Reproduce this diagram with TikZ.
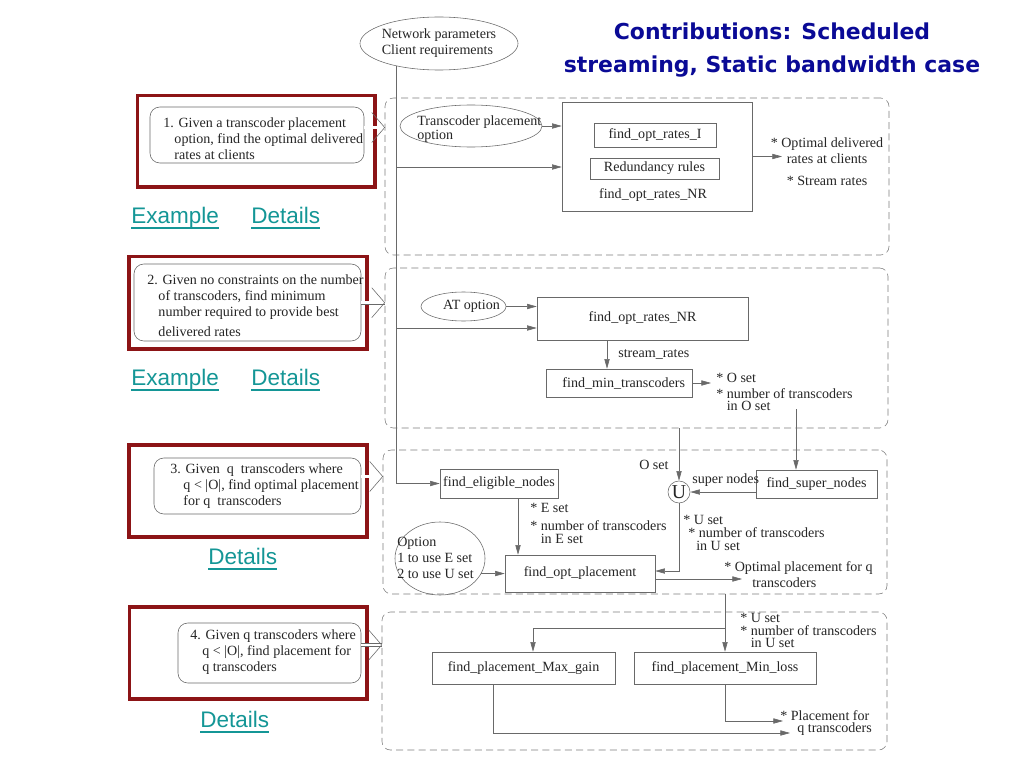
\documentclass[tikz,border=0pt]{standalone}
\usepackage{fontspec}
\setmainfont{Liberation Serif}
\newfontfamily\linkfam{Liberation Sans}
\newfontfamily\titlefam{DejaVu Sans}
\usepackage{xcolor}
\usepackage{tikz}
\usetikzlibrary{shapes,arrows,positioning,fit,calc,arrows.meta}

\definecolor{framered}{RGB}{140,20,22}
\definecolor{linkteal}{RGB}{20,150,150}
\definecolor{titleblue}{RGB}{10,10,150}
\definecolor{linegray}{RGB}{105,105,105}
\definecolor{dashgray}{RGB}{125,125,125}

\newcommand{\difont}{\fontsize{10pt}{11.4pt}\selectfont}
\newcommand{\linkul}[1]{\setbox0\hbox{#1}\rlap{\rule[-4pt]{\wd0}{1.1pt}}\box0}

\begin{document}
\begin{tikzpicture}[
    x=0.025cm, y=-0.025cm,
    every node/.style={text=black!85},
    panel/.style={draw=dashgray, dash pattern=on 5pt off 3pt, rounded corners=6pt, inner sep=0pt},
    redframe/.style={draw=framered, line width=2.7pt, inner sep=0pt},
    qbox/.style={draw=linegray, rounded corners=7pt, inner sep=0pt},
    box/.style={draw=linegray, inner sep=0pt},
    oval/.style={draw=linegray, ellipse, inner sep=0pt},
    txt/.style={inner sep=0pt, align=left, font=\difont},
    link/.style={inner sep=0pt, anchor=base west, text=linkteal, font=\linkfam\fontsize{16pt}{18pt}\selectfont},
    flow/.style={draw=linegray, -{Triangle[length=2.4mm,width=1.3mm]}},
    imp/.style={draw=linegray, double, double distance=2pt},
    chev/.style={draw=linegray}
]
\fill[white] (0,0) rectangle (1024,768);
\useasboundingbox (0,0) rectangle (1024,768);

\node[font=\titlefam\bfseries\fontsize{15.6pt}{23.4pt}\selectfont, text=titleblue, align=center, anchor=north, inner sep=0pt] (title) at (772,22.5) {Contributions: Scheduled\\streaming, Static bandwidth case};

% dashed panels
\node[panel, fit={(385,98) (889,255)}] (p1) {};
\node[panel, fit={(385,268) (888,428)}] (p2) {};
\node[panel, fit={(383,450) (887,594)}] (p3) {};
\node[panel, fit={(382,612) (887,750)}] (p4) {};

% problem statements
\node[redframe, fit={(137.5,95.5) (375,187)}] (r1) {};
\node[qbox, fit={(150,107) (364,163)}] (q1) {};
\node[txt, anchor=north west] (q1t) at (163,117.5) {1. Given a transcoder placement\\\hspace*{0.28cm}option, find the optimal delivered\\\hspace*{0.28cm}rates at clients};
\node[link] (ex1) at (131,223) {\linkul{Example}};
\node[link] (det1) at (251,223) {\linkul{Details}};

\node[redframe, fit={(129,256.5) (367,349)}] (r2) {};
\node[qbox, fit={(134,264) (361,341)}] (q2) {};
\node[txt, anchor=north west] (q2t) at (147,274.5) {2. Given no constraints on the number\\\hspace*{0.28cm}of transcoders, find minimum\\\hspace*{0.28cm}number required to provide best\\[2.8pt]\hspace*{0.28cm}delivered rates};
\node[link] (ex2) at (131,385) {\linkul{Example}};
\node[link] (det2) at (251,385) {\linkul{Details}};

\node[redframe, fit={(129,445) (367,537)}] (r3) {};
\node[qbox, fit={(154,458) (361,514)}] (q3) {};
\node[txt, anchor=north west] (q3t) at (170,463.5) {3. Given\ \ q\ \ transcoders where\\\hspace*{0.33cm}q < |O|, find optimal placement\\\hspace*{0.33cm}for q\ \ transcoders};
\node[link] (det3) at (208,564) {\linkul{Details}};

\node[redframe, fit={(129.5,607) (367,699)}] (r4) {};
\node[qbox, fit={(178,623) (361,683)}] (q4) {};
\node[txt, anchor=north west] (q4t) at (190,629.5) {4. Given q transcoders where\\\hspace*{0.3cm}q < |O|, find placement for\\\hspace*{0.3cm}q transcoders};
\node[link] (det4) at (200,727) {\linkul{Details}};

% inputs
\node[oval, minimum width=3.95cm, minimum height=1.325cm,
      label={[txt]center:{Network parameters\\Client requirements}}] (net) at (439,43.5) {};

% panel 1
\node[oval, minimum width=3.55cm, minimum height=1.05cm] (tpo) at (471,126) {};
\node[txt, anchor=north west] (tpot) at (417,115.5) {Transcoder placement\\[-1.8pt]option};
\node[box, fit={(562,102) (752,211)}] (nr1) {};
\node[box, fit={(594,123) (716,147)}, label={[txt]center:find\_opt\_rates\_I}] (ropt) {};
\node[box, fit={(590,158) (719,179)}, label={[txt]center:Redundancy rules}] (rr) {};
\node[txt, anchor=base] (nr1l) at (653,198) {find\_opt\_rates\_NR};
\node[txt, align=center, anchor=north] (out1) at (827,137.5) {* Optimal delivered\\rates at clients\\[4pt]* Stream rates};

% panel 2
\node[oval, minimum width=2.125cm, minimum height=0.725cm,
      label={[txt, xshift=0.2cm]center:AT option}] (atopt) at (463.5,306.5) {};
\node[box, fit={(537,297) (748,340)}, label={[txt]center:find\_opt\_rates\_NR}] (nr2) {};
\node[box, fit={(546,369) (692,397)}, label={[txt, xshift=0.12cm]center:find\_min\_transcoders}] (mint) {};
\node[txt, anchor=base west] (srl) at (618,357) {stream\_rates};
\node[txt, anchor=north west] (oset) at (716,372.5) {* O set\\* number of transcoders\\[-2.5pt]\hphantom{* }in O set};

% panel 3
\node[box, fit={(440,469) (558,498)}, label={[txt]center:find\_eligible\_nodes}] (elig) {};
\node[box, fit={(756,470) (877,498)}, label={[txt]center:find\_super\_nodes}] (sup) {};
\node[circle, draw=linegray, minimum size=0.55cm, inner sep=0pt, font=\fontsize{14pt}{14pt}\selectfont] (ucirc) at (679,492) {U};
\node[oval, minimum width=2.25cm, minimum height=1.825cm] (opt) at (440,558.5) {};
\node[txt, anchor=north west] (optt) at (397,536.5) {Option\\1 to use E set\\2 to use U set};
\node[box, fit={(505,555) (655,592)}, label={[txt]center:find\_opt\_placement}] (place) {};
\node[txt, anchor=north west] (eset) at (530,503.5) {* E set\\[1pt]* number of transcoders\\[-1.8pt]\hphantom{* }in E set};
\node[txt, anchor=north west] (uset) at (683,515.5) {* U set\\[-2.5pt]\hspace*{0.125cm}* number of transcoders\\[-2.5pt]\hspace*{0.325cm}in U set};
\node[txt, anchor=base west] (osl) at (639,469) {O set};
\node[txt, anchor=base west] (snl) at (692,483) {super nodes};
\node[txt, anchor=north west] (popt) at (724,561.5) {* Optimal placement for q\\\hspace*{0.7cm}transcoders};

% panel 4
\node[box, fit={(432,652) (615,684)}, label={[txt]center:find\_placement\_Max\_gain}] (maxg) {};
\node[box, fit={(634,652) (816,684)}, label={[txt]center:find\_placement\_Min\_loss}] (minl) {};
\node[txt, anchor=north west] (uset4) at (740,613.5) {* U set\\[-2.8pt]* number of transcoders\\[-2.8pt]\hphantom{* }in U set};
\node[txt, anchor=north west] (plc) at (780,710.5) {* Placement for\\[-2.8pt]\hspace*{0.425cm}q transcoders};

% junctions and free ends
\coordinate (t0) at (net.208);
\coordinate (j1) at (t0 |- 0,167);
\coordinate (j2) at (t0 |- 0,328);
\coordinate (o1) at (782,156.5);
\coordinate (om) at (711,383);
\coordinate (s0) at (796,409);
\coordinate (po) at (742,579);
\coordinate (j4) at (minl.north |- 0,628);
\coordinate (e4a) at (783,721);
\coordinate (e4b) at (790,733);

% connectors
\draw[flow] (t0) |- (elig.west);
\draw[flow] (j1) -- (j1 -| nr1.west);
\draw[flow] (tpo.east) -- (tpo.east -| nr1.west);
\draw[flow] (nr1.east) -- (o1);
\draw[flow] (j2) -- (j2 -| nr2.west);
\draw[flow] (atopt.east) -- (atopt.east -| nr2.west);
\draw[flow] (nr2.south -| 607,0) -- (mint.north -| 607,0);
\draw[flow] (mint.east) -- (om);
\draw[flow] (p2.south -| ucirc.north) -- (ucirc.north);
\draw[flow] (s0) -- (s0 |- sup.north);
\draw[flow] (sup.west |- ucirc.east) -- (ucirc.east);
\draw[flow] (ucirc.south) |- (place.east |- 0,571);
\draw[flow] (elig.south -| 518,0) -- (place.north -| 518,0);
\draw[flow] (opt.-20) -- (opt.-20 -| place.west);
\draw[flow] (place.east |- po) -- (po);
\draw[flow] (p3.south -| minl.north) -- (minl.north);
\draw[flow] (j4) -| (maxg.north -| 533,0);
\draw[flow] (minl.south) |- (e4a);
\draw[flow] (maxg.south -| 493,0) |- (e4b);

% statement to panel
\foreach \q/\p/\yy in {q1/p1/127.5, q2/p2/302.7, q3/p3/476.5, q4/p4/645} {
  \coordinate (h) at (\p.west |- 0,\yy);
  \draw[imp] (\q.east |- h) -- (h);
  \draw[chev] ([shift={(-13,-15)}]h) -- (h) -- ([shift={(-13,15)}]h);
}
\end{tikzpicture}
\end{document}
